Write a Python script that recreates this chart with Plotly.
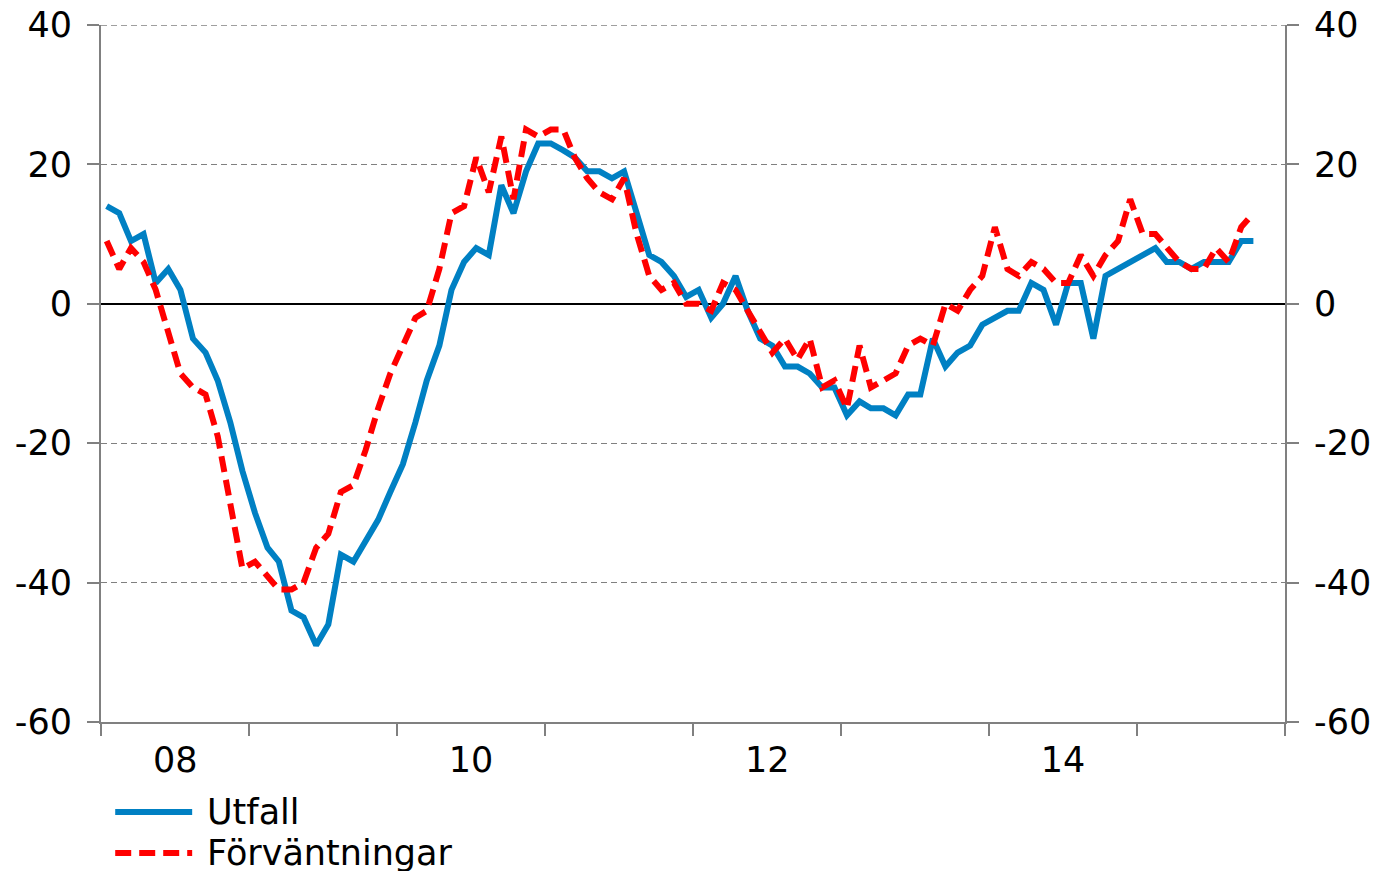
import pandas as pd
import plotly.graph_objects as go

# Monthly data, Jan 2008 - Oct 2015
start_month = "2008-01-01"
utfall = [14, 13, 9, 10, 3, 5, 2, -5, -7, -11, -17, -24, -30, -35, -37, -44, -45, -49, -46, -36,
          -37, -34, -31, -27, -23, -17, -11, -6, 2, 6, 8, 7, 17, 13, 19, 23, 23, 22, 21, 19,
          19, 18, 19, 13, 7, 6, 4, 1, 2, -2, 0, 4, -1, -5, -6, -9, -9, -10, -12, -12,
          -16, -14, -15, -15, -16, -13, -13, -5, -9, -7, -6, -3, -2, -1, -1, 3, 2, -3, 3, 3,
          -5, 4, 5, 6, 7, 8, 6, 6, 5, 6, 6, 6, 9, 9]
forvantningar = [9, 5, 8, 6, 2, -4, -10, -12, -13, -19, -29, -38, -37, -39, -41, -41, -40, -35, -33, -27,
                 -26, -21, -15, -10, -6, -2, -1, 5, 13, 14, 21, 16, 24, 15, 25, 24, 25, 25, 21, 18,
                 16, 15, 18, 10, 4, 2, 3, 0, 0, -1, 3, 2, -1, -4, -7, -5, -8, -5, -12, -11,
                 -15, -6, -12, -11, -10, -6, -5, -6, 0, -1, 2, 4, 11, 5, 4, 6, 5, 3, 3, 7,
                 4, 7, 9, 15, 10, 10, 8, 6, 5, 5, 8, 6, 11, 13]
series_names = ["Utfall", "Förväntningar"]
year_starts = [f"{y}-01-01" for y in range(2008, 2017)]
label_years = [2008, 2010, 2012, 2014]
label_text = ["08", "10", "12", "14"]
y_ticks = [-60, -40, -20, 0, 20, 40]
y_ticktext = ["-60", "-40", "-20", "0", "20", "40"]
y_range = [y_ticks[0], y_ticks[-1]]

dates = pd.date_range(start_month, periods=len(utfall), freq="MS") + pd.Timedelta(days=14)

BLUE = "#0080C3"
RED = "#FF0000"
GRAY = "#808080"
FONT = "Verdana, DejaVu Sans, sans-serif"
FS = 35
GRID_DASH = "6px,4px"

fig = go.Figure()
fig.add_trace(go.Scatter(x=dates, y=utfall, mode="lines", name=series_names[0],
                         line=dict(color=BLUE, width=6), showlegend=False, yaxis="y"))
fig.add_trace(go.Scatter(x=dates, y=forvantningar, mode="lines", name=series_names[1],
                         line=dict(color=RED, width=6, dash="16px,8px"), showlegend=False,
                         yaxis="y2"))

yax_common = dict(range=y_range, tickvals=y_ticks, ticktext=y_ticktext, ticks="outside",
                  ticklen=12, tickcolor=GRAY, tickwidth=2, showline=True, linecolor=GRAY,
                  linewidth=2, automargin=False, ticklabelstandoff=8,
                  ticklabeloverflow="allow",
                  tickfont=dict(family=FONT, size=FS, color="black"), fixedrange=True)

# The page body adds an 8px offset, so the figure is sized to fit inside the window.
fig.update_layout(
    width=1370, height=863,
    margin=dict(l=93, r=93, t=17, b=149),
    paper_bgcolor="white", plot_bgcolor="white",
    font=dict(family=FONT, color="black"),
    xaxis=dict(
        type="date",
        range=[year_starts[0], year_starts[-1]],
        tickvals=[f"{y}-07-02" for y in label_years],
        ticktext=label_text,
        ticks="", ticklen=0, automargin=False, ticklabelstandoff=6,
        ticklabeloverflow="allow",
        tickfont=dict(family=FONT, size=FS, color="black"),
        showline=True, linecolor=GRAY, linewidth=2,
        showgrid=False, zeroline=False,
        minor=dict(tickvals=year_starts, ticks="outside", ticklen=12, tickcolor=GRAY,
                   tickwidth=2, showgrid=False),
    ),
    yaxis=dict(**yax_common, side="left", showgrid=True, gridcolor=GRAY, gridwidth=1.3,
               griddash=GRID_DASH, zeroline=True, zerolinecolor="black", zerolinewidth=2),
    yaxis2=dict(**yax_common, side="right", overlaying="y", showgrid=False, zeroline=False),
    showlegend=False,
)

# Top gridline (Plotly omits the gridline lying on the plot edge)
fig.add_shape(type="line", xref="x domain", yref="y", x0=0, x1=1, y0=y_ticks[-1], y1=y_ticks[-1],
              line=dict(color=GRAY, width=1.3, dash=GRID_DASH), layer="below")

# Legend drawn below the plot
legend_rows = [(-0.129, BLUE, "solid"), (-0.188, RED, "16px,8px")]
for (yp, col, dash), name in zip(legend_rows, series_names):
    fig.add_shape(type="line", xref="paper", yref="paper", x0=0.012, x1=0.077, y0=yp, y1=yp,
                  line=dict(color=col, width=6, dash=dash))
    fig.add_annotation(xref="paper", yref="paper", x=0.088, y=yp, text=name, showarrow=False,
                       xanchor="left", yanchor="middle",
                       font=dict(family=FONT, size=FS, color="black"))

fig.write_html("out.html")
